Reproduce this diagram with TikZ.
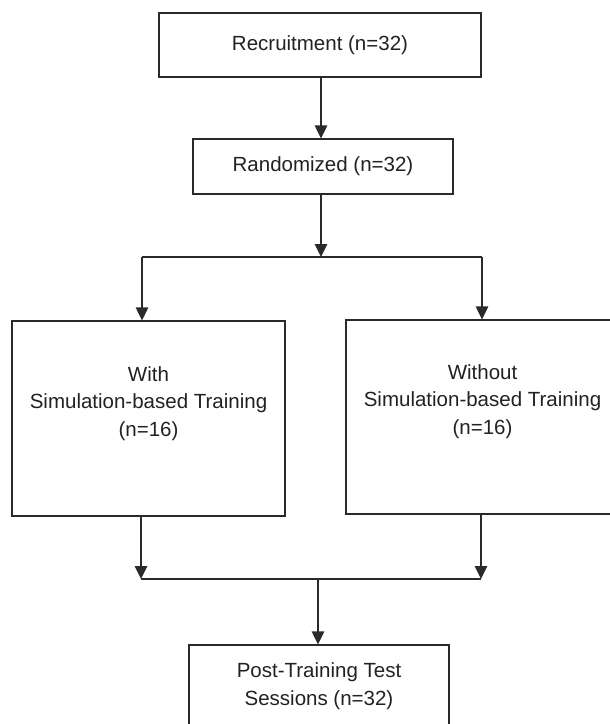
\documentclass[tikz,border=0pt]{standalone}
\usepackage{fontspec}
\setmainfont{Liberation Sans}
\usetikzlibrary{arrows.meta}
\definecolor{ink}{HTML}{2A2A2A}
\definecolor{txt}{HTML}{222222}
\tikzset{
  box/.style={draw=ink, line width=1.2pt, rectangle, inner sep=0pt, anchor=center},
  lbl/.style={text=txt, align=center, inner sep=0pt, font=\fontsize{20.5}{27.5}\selectfont},
  conn/.style={draw=ink, line width=1.2pt},
  arr/.style={conn, -{Triangle[width=12.5pt,length=13pt]}}
}
\begin{document}
\begin{tikzpicture}[x=1pt,y=-1pt]
\useasboundingbox (0,0) rectangle (610,724);
\clip (0,0) rectangle (610,724);
\fill[white] (0,0) rectangle (610,724);

\node[box, lbl, minimum width=322pt, minimum height=64pt] (rec) at (320,45) {Recruitment (n=32)};
\node[box, lbl, minimum width=260pt, minimum height=55pt] (ran) at (323,166.5) {Randomized (n=32)};
\node[box, minimum width=273pt, minimum height=195pt] (lft) at (148.5,418.5) {};
\node[lbl] (lfttxt) at (148.5,403.5) {With\\Simulation-based Training\\(n=16)};
\node[box, minimum width=272pt, minimum height=194pt] (rgt) at (482,417) {};
\node[lbl] (rgttxt) at (482.5,401.5) {Without\\Simulation-based Training\\(n=16)};
\node[box, lbl, minimum width=260pt, minimum height=82pt] (post) at (319,686) {Post-Training Test\\Sessions (n=32)};

\coordinate (split) at (321,257);
\coordinate (splitL) at (142,257);
\coordinate (splitR) at (482,257);
\coordinate (joinL) at (141,579);
\coordinate (joinR) at (481,579);
\coordinate (join) at (318,579);

\draw[arr] (rec.south -| split) -- (ran.north -| split);
\draw[arr] (ran.south -| split) -- (split);
\draw[conn] (splitL) -- (splitR);
\draw[arr] (splitL) -- (lft.north -| splitL);
\draw[arr] (splitR) -- (rgt.north -| splitR);
\draw[arr] (lft.south -| joinL) -- (joinL);
\draw[arr] (rgt.south -| joinR) -- (joinR);
\draw[conn] (joinL) -- (joinR);
\draw[arr] (join) -- (post.north -| join);
\end{tikzpicture}
\end{document}
